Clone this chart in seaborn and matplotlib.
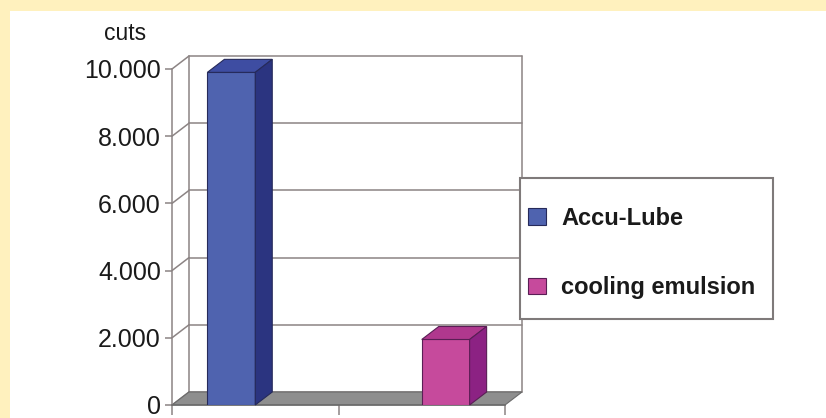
import numpy as np
import pandas as pd
import matplotlib
matplotlib.use("Agg")
import matplotlib.pyplot as plt
import seaborn as sns
from matplotlib.patches import Polygon, Rectangle
from matplotlib.ticker import FuncFormatter

# ---- data ----
categories = ["group 1", "group 2"]
series = ["Accu-Lube", "cooling emulsion"]
accu_lube = [9900, 0]
cooling_emulsion = [0, 1950]
y_ticks = [0, 2000, 4000, 6000, 8000, 10000]
y_label = "cuts"

df = pd.DataFrame({
    "category": categories * 2,
    "series": [series[0]] * len(categories) + [series[1]] * len(categories),
    "cuts": accu_lube + cooling_emulsion,
})

# ---- style ----
W, H, DPI = 826, 418, 100
front = {"Accu-Lube": "#4F63AF", "cooling emulsion": "#C64A9C"}
top = {"Accu-Lube": "#3E4DA2", "cooling emulsion": "#B0388E"}
side = {"Accu-Lube": "#2B3480", "cooling emulsion": "#8C2283"}
edge = {"Accu-Lube": "#262A5A", "cooling emulsion": "#5A1E55"}
grid_c = "#8C8484"
DEPTH_X_PX, DEPTH_Y_PX = 17, 13

sns.set_theme(style="white")
plt.rcParams["font.family"] = ["Liberation Sans", "DejaVu Sans"]

fig = plt.figure(figsize=(W / DPI, H / DPI), dpi=DPI, facecolor="#FFF1BE")
fig.patches.append(Rectangle((10 / W, 0), 1, 1 - 11 / H, transform=fig.transFigure,
                             facecolor="white", edgecolor="none", zorder=-5))
ax = fig.add_axes([172 / W, 13 / H, 333 / W, 336 / H])
ax.set_facecolor("none")

sns.barplot(data=df, x="category", y="cuts", hue="series", order=categories,
            hue_order=series, palette=front, saturation=1, width=0.575,
            linewidth=0.8, ax=ax, legend=True, zorder=3)

leg = ax.get_legend()
handles = leg.legend_handles
labels = [t.get_text() for t in leg.get_texts()]
leg.remove()

ax.set_xlim(-0.5, len(categories) - 0.5)
ax.set_ylim(0, max(y_ticks))
x0l, x1l = ax.get_xlim()
y0l, y1l = ax.get_ylim()
dx = DEPTH_X_PX * (x1l - x0l) / (ax.get_position().width * W)
dy = DEPTH_Y_PX * (y1l - y0l) / (ax.get_position().height * H)

# floor
ax.add_patch(Polygon([(x0l, 0), (x1l, 0), (x1l + dx, dy), (x0l + dx, dy)],
                     closed=True, facecolor="#8E8E8E", edgecolor="#6B6B6B",
                     linewidth=0.8, clip_on=False, zorder=1))
# back wall and side wall gridlines
for v in y_ticks:
    ax.plot([x0l + dx, x1l + dx], [v + dy, v + dy], color=grid_c, lw=1.1,
            clip_on=False, zorder=0.8)
    ax.plot([x0l, x0l + dx], [v, v + dy], color=grid_c, lw=1.1,
            clip_on=False, zorder=0.8)
for xx in (x0l + dx, x1l + dx):
    ax.plot([xx, xx], [dy, y1l + dy], color=grid_c, lw=1.1, clip_on=False, zorder=0.8)

# 3D bar faces
for name, cont in zip(series, ax.containers):
    for rect in cont:
        h = rect.get_height()
        if not np.isfinite(h) or h <= 0:
            rect.set_visible(False)
            continue
        rect.set_edgecolor(edge[name])
        x0 = rect.get_x()
        w = rect.get_width()
        ax.add_patch(Polygon([(x0, h), (x0 + w, h), (x0 + w + dx, h + dy), (x0 + dx, h + dy)],
                             closed=True, facecolor=top[name], edgecolor=edge[name],
                             linewidth=0.8, clip_on=False, zorder=3))
        ax.add_patch(Polygon([(x0 + w, 0), (x0 + w + dx, dy), (x0 + w + dx, h + dy), (x0 + w, h)],
                             closed=True, facecolor=side[name], edgecolor=edge[name],
                             linewidth=0.8, clip_on=False, zorder=3))

# axes
for s in ("top", "right"):
    ax.spines[s].set_visible(False)
ax.spines["left"].set_color(grid_c)
ax.spines["left"].set_linewidth(1.1)
ax.spines["bottom"].set_color("#6B6B6B")
ax.spines["bottom"].set_linewidth(1.1)
ax.set_yticks(y_ticks)
ax.yaxis.set_major_formatter(FuncFormatter(lambda v, p: f"{v:,.0f}".replace(",", ".")))
ax.set_xticks(np.arange(len(categories) + 1) - 0.5, labels=[""] * (len(categories) + 1))
ax.tick_params(axis="y", left=True, direction="out", length=5, width=1.1, color=grid_c,
               labelsize=18, pad=3, labelcolor="#1a1a1a")
ax.tick_params(axis="x", bottom=True, direction="out", length=7, width=1.1, color=grid_c)
ax.set_xlabel("")
ax.set_ylabel("")

fig.text(125 / W, 1 - 33 / H, y_label, ha="center", va="center", fontsize=16.5, color="#1a1a1a")

# legend
fig.patches.append(Rectangle((520 / W, 1 - 319 / H), 253 / W, 141 / H, transform=fig.transFigure,
                             facecolor="white", edgecolor="#7F7A7A", linewidth=1.5, zorder=5))
newleg = fig.legend(handles, labels, loc="upper left", bbox_to_anchor=(528 / W, 1 - 207 / H),
                    frameon=False, borderpad=0, borderaxespad=0, labelspacing=1.95,
                    handlelength=0.76, handleheight=0.7, handletextpad=0.64,
                    prop=dict(weight="bold", size=17))
newleg.set_zorder(6)
for hnd, name in zip(newleg.legend_handles, series):
    hnd.set_facecolor(front[name])
    hnd.set_edgecolor(edge[name])
    hnd.set_linewidth(0.8)
for t in newleg.get_texts():
    t.set_color("#1a1a1a")

fig.savefig("out.png", dpi=DPI, facecolor=fig.get_facecolor())
